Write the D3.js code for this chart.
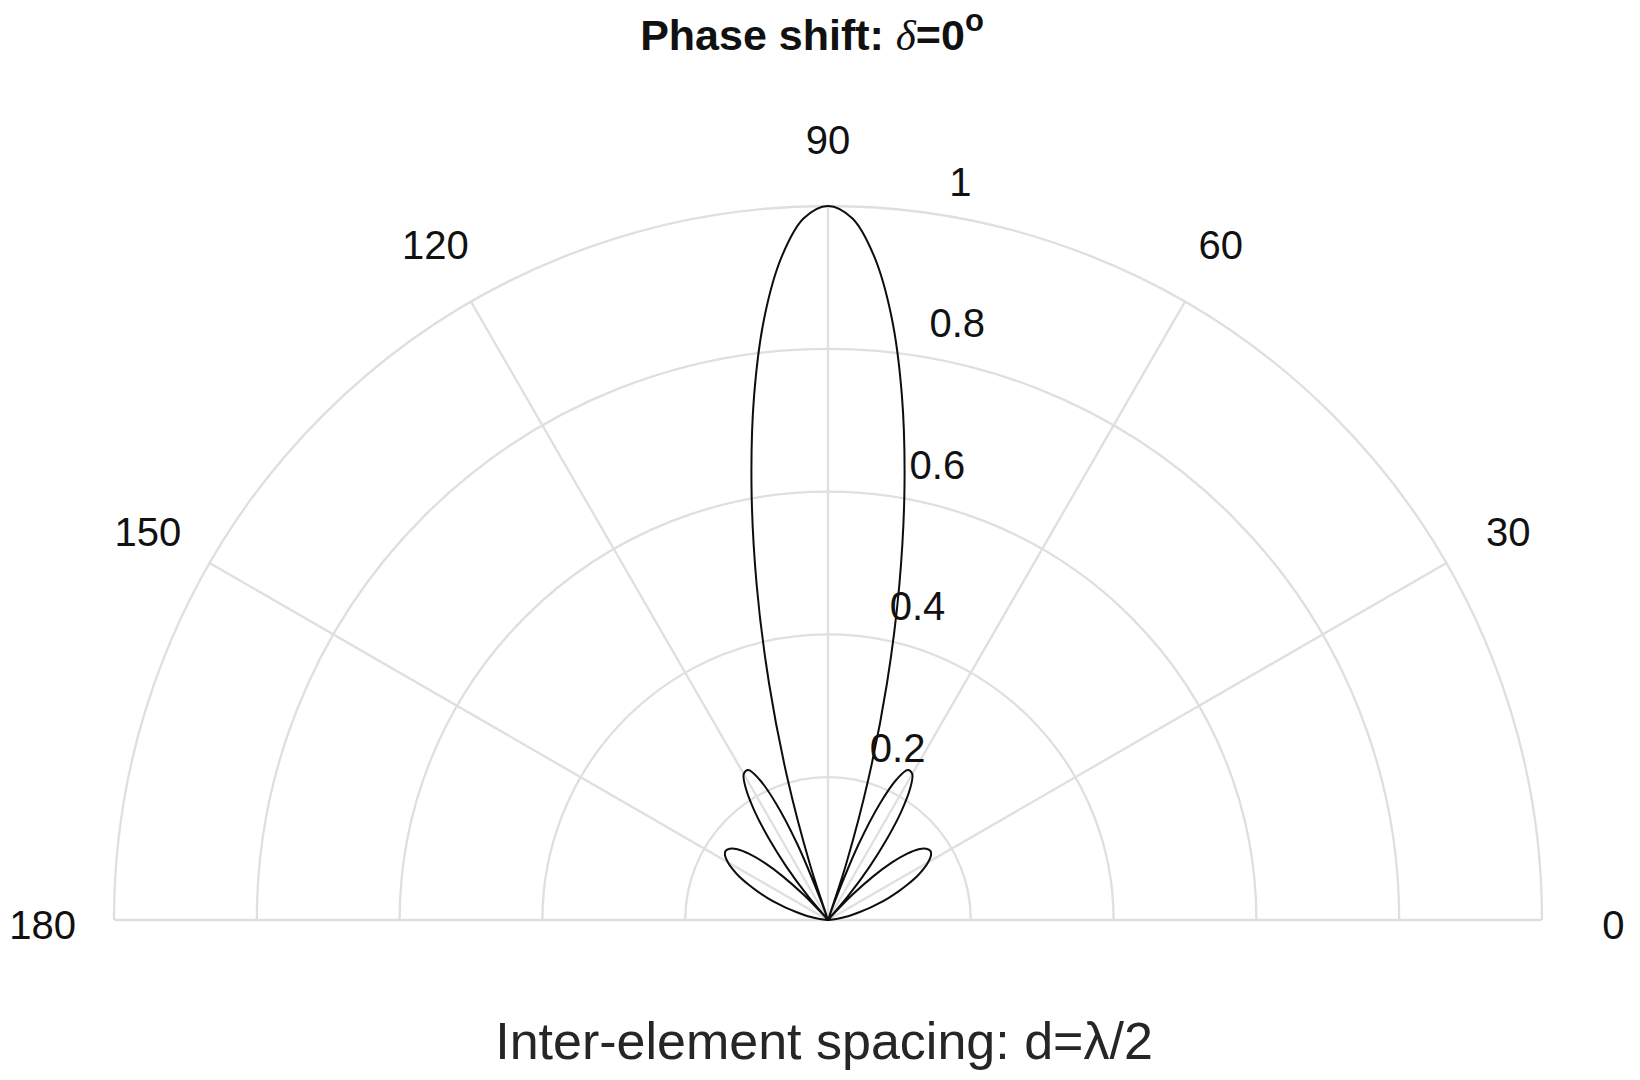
<!DOCTYPE html>
<html>
<head>
<meta charset="utf-8">
<script src="https://cdn.jsdelivr.net/npm/d3@7"></script>
<style>
  html, body { margin: 0; padding: 0; background: #ffffff; }
  svg { display: block; }
</style>
</head>
<body>
<svg id="chart" width="1640" height="1080"></svg>
<script>
// ---- data ----
const thetaDeg = [0,2,4,6,8,10,12,14,16,18,20,22,24,26,28,30,32,34,36,38,40,42,44,46,48,48.2,50,52,54,56,58,60,62,64,66,68,70,70.5,72,74,76,78,80,82,84,86,88,90,
  92,94,96,98,100,102,104,106,108,109.5,110,112,114,116,118,120,122,124,126,128,130,131.8,132,134,136,138,140,142,144,146,148,150,152,154,156,158,160,162,164,166,168,170,172,174,176,178,180];
const gain = [0.000,0.001,0.004,0.009,0.015,0.024,0.034,0.046,0.060,0.074,0.090,0.106,0.122,0.138,0.151,0.162,0.170,0.173,0.170,0.161,0.144,0.120,0.088,0.049,0.005,0.000,0.044,0.094,0.141,0.184,0.217,0.236,0.238,0.219,0.178,0.114,0.027,0.000,0.081,0.205,0.341,0.481,0.617,0.743,0.850,0.931,0.983,1.000,
  0.983,0.931,0.850,0.743,0.617,0.481,0.341,0.205,0.081,0.000,0.027,0.114,0.178,0.219,0.238,0.236,0.217,0.184,0.141,0.094,0.044,0.000,0.005,0.049,0.088,0.120,0.144,0.161,0.170,0.173,0.170,0.162,0.151,0.138,0.122,0.106,0.090,0.074,0.060,0.046,0.034,0.024,0.015,0.009,0.004,0.001,0.000];
const angleTicks = [0, 30, 60, 90, 120, 150, 180];
const spokeAngles = [30, 60, 90, 120, 150];
const radiusTicks = [0.2, 0.4, 0.6, 0.8, 1];
const radiusTickLabels = ["0.2", "0.4", "0.6", "0.8", "1"];
const titleText = "Phase shift: ";
const xLabelText = "Inter-element spacing: d=\u03BB/2";

// ---- layout ----
const cx = 828, cy = 920, R = 714;
const svg = d3.select("#chart");
const g = svg.append("g").attr("transform", `translate(${cx},${cy})`);

const rScale = d3.scaleLinear().domain([0, 1]).range([0, R]);
// math angle (deg, CCW from east) -> d3 radial angle (rad, CW from north)
const aScale = d3.scaleLinear().domain([0, 180]).range([Math.PI / 2, -Math.PI / 2]);
const toXY = (deg, r) => {
  const a = aScale(deg);
  return [Math.sin(a) * rScale(r), -Math.cos(a) * rScale(r)];
};

const gridColor = "#dfdfdf";
const gridW = 2.3;
const font = "'Liberation Sans', Arial, Helvetica, sans-serif";

// rings (half circles)
radiusTicks.forEach(v => {
  const p = d3.path();
  const r = rScale(v);
  p.moveTo(r, 0);
  p.arc(0, 0, r, 0, -Math.PI, true);
  g.append("path").attr("d", p.toString())
    .attr("fill", "none").attr("stroke", gridColor).attr("stroke-width", gridW);
});
// baseline 0-180
{
  const [x0, y0] = toXY(0, 1), [x1, y1] = toXY(180, 1);
  g.append("line").attr("x1", x0).attr("y1", y0).attr("x2", x1).attr("y2", y1)
    .attr("stroke", gridColor).attr("stroke-width", gridW);
}
// spokes
spokeAngles.forEach(d => {
  const [x, y] = toXY(d, 1);
  g.append("line").attr("x1", 0).attr("y1", 0).attr("x2", x).attr("y2", y)
    .attr("stroke", gridColor).attr("stroke-width", gridW);
});

// pattern curve
const pts = thetaDeg.map((t, i) => ({ t, v: gain[i] }));
const line = d3.lineRadial()
  .angle(d => aScale(d.t))
  .radius(d => rScale(d.v))
  .curve(d3.curveCatmullRom.alpha(0.5));
g.append("path").attr("d", line(pts))
  .attr("fill", "none").attr("stroke", "#0d0d0d").attr("stroke-width", 2)
  .attr("stroke-linejoin", "round");

// angle labels
angleTicks.forEach(d => {
  const [x, y] = toXY(d, 1.1);
  g.append("text").attr("x", x).attr("y", y + 19)
    .attr("text-anchor", "middle")
    .attr("font-family", font).attr("font-size", 40).attr("fill", "#111")
    .text(d);
});

// radius labels (at 82 degrees)
radiusTicks.forEach((v, i) => {
  const [x, y] = toXY(82, v + 0.01);
  g.append("text").attr("x", x + 21).attr("y", y - 10)
    .attr("text-anchor", "start")
    .attr("font-family", font).attr("font-size", 40).attr("fill", "#111")
    .text(radiusTickLabels[i]);
});

// title
const title = svg.append("text").attr("x", 812).attr("y", 50)
  .attr("text-anchor", "middle")
  .attr("font-family", font).attr("font-size", 43).attr("font-weight", "bold").attr("fill", "#111");
title.append("tspan").text(titleText);
title.append("tspan").attr("font-family", "'Liberation Serif', 'Times New Roman', serif")
  .attr("font-style", "italic").attr("font-weight", "normal").text("\u03B4");
title.append("tspan").text("=0");
title.append("tspan").attr("font-size", 31).attr("dy", -19).text("o");

// x label
svg.append("text").attr("x", 824).attr("y", 1059)
  .attr("text-anchor", "middle")
  .attr("font-family", font).attr("font-size", 52).attr("fill", "#262626")
  .text(xLabelText);
</script>
</body>
</html>
